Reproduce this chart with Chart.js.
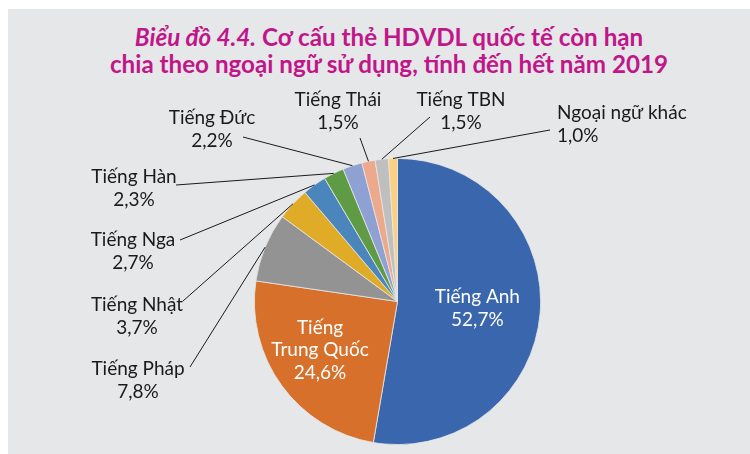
<!DOCTYPE html>
<html>
<head>
<meta charset="utf-8">
<script src="https://cdn.jsdelivr.net/npm/chart.js@4"></script>
<style>
  html, body { margin: 0; padding: 0; background: #fff; }
  body { width: 750px; height: 454px; position: relative; overflow: hidden; font-family: Lato, "Open Sans", sans-serif; }
  #panel { position: absolute; left: 8px; top: 9px; width: 742px; height: 445px; background: #e6e7e9; }
  #title { position: absolute; left: 0; top: 14px; width: 762px; text-align: center; color: #c0168a;
           font-weight: bold; font-size: 24.2px; line-height: 27px; }
  #title i { font-style: italic; }
  #wrap { position: absolute; left: 0; top: 0; width: 742px; height: 445px; }
</style>
</head>
<body>
<div id="panel">
  <div id="title"><i>Biểu đồ 4.4.</i> Cơ cấu thẻ HDVDL quốc tế còn hạn<br>chia theo ngoại ngữ sử dụng, tính đến hết năm 2019</div>
  <div id="wrap"><canvas id="pie"></canvas></div>
</div>
<script>
// data
const languages = ['Tiếng Anh', 'Tiếng Trung Quốc', 'Tiếng Pháp', 'Tiếng Nhật', 'Tiếng Nga',
                   'Tiếng Hàn', 'Tiếng Đức', 'Tiếng Thái', 'Tiếng TBN', 'Ngoại ngữ khác'];
const shares = [52.7, 24.6, 7.8, 3.7, 2.7, 2.3, 2.2, 1.5, 1.5, 1.0];
const label_lines = [
  ['Tiếng Anh', '52,7%'],
  ['Tiếng', 'Trung Quốc', '24,6%'],
  ['Tiếng Pháp', '7,8%'],
  ['Tiếng Nhật', '3,7%'],
  ['Tiếng Nga', '2,7%'],
  ['Tiếng Hàn', '2,3%'],
  ['Tiếng Đức', '2,2%'],
  ['Tiếng Thái', '1,5%'],
  ['Tiếng TBN', '1,5%'],
  ['Ngoại ngữ khác', '1,0%']
];

const colors = ['#3a66ae', '#d7702b', '#939393', '#e0ab27', '#4a86bc',
                '#5f9a45', '#8fa1d3', '#eda98b', '#bfbfbf', '#fdd081'];

// where each label sits (canvas coords); inside labels use a radius fraction
const label_layout = [
  { inside: true, frac: 0.56, dx: 0, dy: 0 },
  { inside: true, frac: 0.6, dx: -8, dy: -2 },
  { x: 130, y: 360, align: 'center', lineFrom: [182, 358] },
  { x: 129, y: 296, align: 'center', lineFrom: [175, 292] },
  { x: 125, y: 231, align: 'center', lineFrom: [172, 231] },
  { x: 126, y: 168, align: 'center', lineFrom: [168, 176] },
  { x: 204, y: 109, align: 'center', lineFrom: [235, 128] },
  { x: 330, y: 91, align: 'center', lineFrom: [352, 129] },
  { x: 453, y: 91, align: 'center', lineFrom: [422, 108] },
  { x: 549, y: 104, align: 'left', lineFrom: [542, 121] }
];

const line_height = 22.5;

// draws the labels and leader lines from the arc elements
const pie_labels = {
  id: 'pie_labels',
  afterDatasetsDraw(chart) {
    const ctx = chart.ctx;
    const arcs = chart.getDatasetMeta(0).data;
    ctx.save();
    ctx.font = '19px Lato, "Open Sans", sans-serif';
    ctx.textBaseline = 'middle';
    arcs.forEach((arc, i) => {
      const lay = label_layout[i];
      const mid = (arc.startAngle + arc.endAngle) / 2;
      const lines = label_lines[i];
      if (lay.inside) {
        const r = arc.outerRadius * lay.frac;
        const cx = arc.x + Math.cos(mid) * r + lay.dx;
        const cy = arc.y + Math.sin(mid) * r + lay.dy;
        ctx.fillStyle = '#ffffff';
        ctx.textAlign = 'center';
        const top = cy - (lines.length - 1) * line_height / 2;
        lines.forEach((t, k) => ctx.fillText(t, cx, top + k * line_height));
      } else {
        const ex = arc.x + Math.cos(mid) * arc.outerRadius;
        const ey = arc.y + Math.sin(mid) * arc.outerRadius;
        ctx.strokeStyle = '#1a1a1a';
        ctx.lineWidth = 1;
        ctx.beginPath();
        ctx.moveTo(lay.lineFrom[0], lay.lineFrom[1]);
        ctx.lineTo(ex, ey);
        ctx.stroke();
        ctx.fillStyle = '#1a1a1a';
        ctx.textAlign = lay.align;
        lines.forEach((t, k) => ctx.fillText(t, lay.x, lay.y + k * line_height));
      }
    });
    ctx.restore();
  }
};

const pie_chart = new Chart(document.getElementById('pie').getContext('2d'), {
  type: 'pie',
  data: {
    labels: languages,
    datasets: [{
      data: shares,
      backgroundColor: colors,
      borderColor: '#e6e7e9',
      borderWidth: 0.8
    }]
  },
  options: {
    responsive: true,
    maintainAspectRatio: false,
    animation: false,
    layout: { padding: { top: 149, bottom: 9, left: 246, right: 209 } },
    plugins: {
      legend: { display: false },
      tooltip: { enabled: false }
    }
  },
  plugins: [pie_labels]
});
</script>
</body>
</html>
